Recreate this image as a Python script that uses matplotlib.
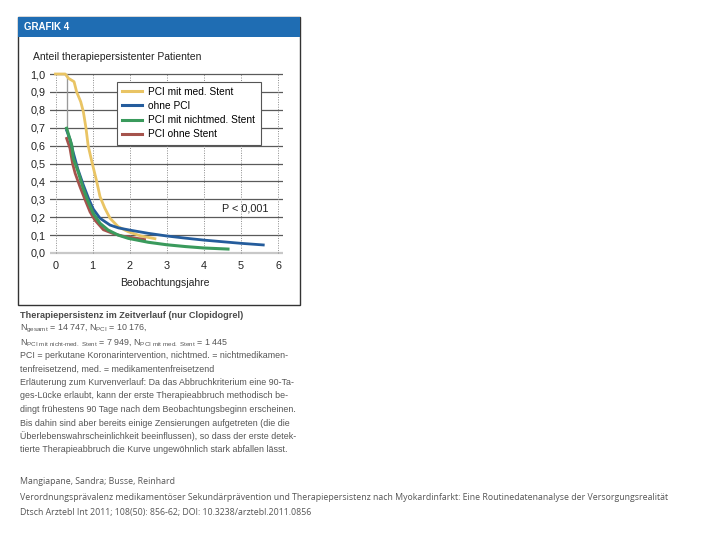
import matplotlib
matplotlib.use("Agg")
import matplotlib.pyplot as plt
from matplotlib.patches import Rectangle
from matplotlib.lines import Line2D

# --- data ---
t_med = [0.0, 0.26, 0.35, 0.50, 0.57, 0.68, 0.75, 0.82, 0.88, 0.98, 1.11, 1.20, 1.33, 1.47, 1.69, 1.96, 2.30, 2.68]
v_med = [1.0, 1.0, 0.976, 0.957, 0.90, 0.845, 0.79, 0.70, 0.60, 0.51, 0.40, 0.315, 0.25, 0.194, 0.147, 0.119, 0.095, 0.08]

t_ohne = [0.0, 0.30, 0.30, 0.40, 0.48, 0.60, 0.75, 0.90, 1.02, 1.20, 1.47, 1.70, 2.0, 2.5, 3.0, 3.5, 4.0, 4.5, 5.0, 5.6]
v_ohne = [1.0, 1.0, 0.685, 0.63, 0.56, 0.47, 0.38, 0.30, 0.245, 0.194, 0.156, 0.14, 0.128, 0.11, 0.095, 0.083, 0.072, 0.063, 0.054, 0.045]

t_nicht = [0.0, 0.30, 0.30, 0.44, 0.48, 0.61, 0.75, 0.88, 1.02, 1.20, 1.42, 1.69, 1.96, 2.5, 3.0, 3.5, 4.0, 4.65]
v_nicht = [1.0, 1.0, 0.697, 0.60, 0.53, 0.454, 0.36, 0.287, 0.22, 0.166, 0.128, 0.10, 0.082, 0.06, 0.046, 0.036, 0.028, 0.022]

t_pci = [0.0, 0.30, 0.30, 0.39, 0.46, 0.53, 0.66, 0.80, 0.93, 1.06, 1.29, 1.56, 1.80, 2.10, 2.40]
v_pci = [1.0, 1.0, 0.64, 0.585, 0.50, 0.445, 0.37, 0.296, 0.23, 0.184, 0.13, 0.108, 0.095, 0.085, 0.075]

labels = ["PCI mit med. Stent", "ohne PCI", "PCI mit nichtmed. Stent", "PCI ohne Stent"]
colors = ["#E9C464", "#245C9C", "#3A9A5C", "#A5534C"]

x_ticks = [0, 1, 2, 3, 4, 5, 6]
y_ticks = [0.0, 0.1, 0.2, 0.3, 0.4, 0.5, 0.6, 0.7, 0.8, 0.9, 1.0]

caption = [
    "Erläuterung zum Kurvenverlauf: Da das Abbruchkriterium eine 90-Ta-",
    "ges-Lücke erlaubt, kann der erste Therapieabbruch methodisch be-",
    "dingt frühestens 90 Tage nach dem Beobachtungsbeginn erscheinen.",
    "Bis dahin sind aber bereits einige Zensierungen aufgetreten (die die",
    "Überlebenswahrscheinlichkeit beeinflussen), so dass der erste detek-",
    "tierte Therapieabbruch die Kurve ungewöhnlich stark abfallen lässt.",
]
source = [
    "Mangiapane, Sandra; Busse, Reinhard",
    "Verordnungsprävalenz medikamentöser Sekundärprävention und Therapiepersistenz nach Myokardinfarkt: "
    "Eine Routinedatenanalyse der Versorgungsrealität",
    "Dtsch Arztebl Int 2011; 108(50): 856-62; DOI: 10.3238/arztebl.2011.0856",
]

plt.rcParams["font.family"] = ["Liberation Sans", "DejaVu Sans"]
plt.rcParams["mathtext.fontset"] = "custom"
plt.rcParams["mathtext.rm"] = "Liberation Sans"

W, H = 720, 540
fig = plt.figure(figsize=(7.2, 5.4), dpi=100)


def fx(px):
    return px / W


def fy(py):
    return 1 - py / H


# frame and header
fig.patches.append(Rectangle((fx(18), fy(305)), fx(282), (305 - 17) / H, transform=fig.transFigure,
                             fill=False, edgecolor="#333333", linewidth=1.0))
fig.patches.append(Rectangle((fx(18), fy(37)), fx(282), 20 / H, transform=fig.transFigure,
                             facecolor="#1F6DB3", edgecolor="none"))
fig.text(fx(24), fy(27), "GRAFIK 4", color="white", fontsize=7, fontweight="bold", va="center")
fig.text(fx(33), fy(57), "Anteil therapiepersistenter Patienten", fontsize=7.5, va="center",
         color="#222222")

# axes placement: year 0 at px 55.5, 37.1 px per year; 1.0 at py 74, 0.0 at py 253
x0, sx = 55.5, 37.1
y1, y0 = 74, 253
xl, xr = -0.15, 6.13
yb, yt = -0.02, 1.02
left = x0 + xl * sx
right = x0 + xr * sx
top = y0 - yt * (y0 - y1)
bottom = y0 - yb * (y0 - y1)
ax = fig.add_axes([fx(left), fy(bottom), fx(right - left), (bottom - top) / H])
ax.set_xlim(xl, xr)
ax.set_ylim(yb, yt)
for s in ax.spines.values():
    s.set_visible(False)
ax.tick_params(length=0, labelsize=7.8, pad=3, labelcolor="#222222")
ax.set_xticks(x_ticks)
ax.set_yticks(y_ticks)
ax.set_yticklabels([f"{v:.1f}".replace(".", ",") for v in y_ticks])
ax.set_xticklabels([str(v) for v in x_ticks])

for v in y_ticks:
    if v == 0:
        ax.axhline(v, color="#C8C8C8", lw=1.6, zorder=1)
    else:
        ax.axhline(v, color="#5A5A5A", lw=0.9, zorder=1)
ax.vlines(x_ticks, 0, 1.0, colors="#8A8A8A", linestyles=(0, (1, 1.5)), lw=0.7, zorder=1)

# thin vertical drop at the first detectable abbruch
ax.plot(t_ohne[:3], v_ohne[:3], color="#9A9A9A", lw=0.8, zorder=2)
ax.plot(t_nicht[:3], v_nicht[:3], color="#9A9A9A", lw=0.8, zorder=2)
ax.plot(t_pci[:3], v_pci[:3], color="#9A9A9A", lw=0.8, zorder=2)

ax.plot(t_med, v_med, color=colors[0], lw=2.0, zorder=3)
ax.plot(t_pci[2:], v_pci[2:], color=colors[3], lw=2.0, zorder=4)
ax.plot(t_ohne[2:], v_ohne[2:], color=colors[1], lw=2.0, zorder=5)
ax.plot(t_nicht[2:], v_nicht[2:], color=colors[2], lw=2.2, zorder=6)

handles = [Line2D([], [], color=c, lw=2.2) for c in colors]
leg = ax.legend(handles, labels, loc="upper left", bbox_to_anchor=(0.288, 0.94), fontsize=7.3,
                frameon=True, fancybox=False, handlelength=2.0, handletextpad=0.6,
                labelspacing=0.42, borderpad=0.5, borderaxespad=0, framealpha=1)
leg.get_frame().set_edgecolor("#555555")
leg.get_frame().set_linewidth(0.8)
leg.set_zorder(10)

ax.text(4.48, 0.25, "P < 0,001", fontsize=7.8, va="center", color="#222222")
fig.text(fx(165), fy(283), "Beobachtungsjahre", fontsize=7.5, ha="center", va="center",
         color="#222222")

# caption under the chart
cap_y, step = 315, 13.5
fig.text(fx(20), fy(cap_y), "Therapiepersistenz im Zeitverlauf (nur Clopidogrel)", fontsize=6.6,
         fontweight="bold", color="#4A4A4A", va="center")
body = [
    r"N$_{\mathregular{gesamt}}$ = 14 747, N$_{\mathregular{PCI}}$ = 10 176,",
    r"N$_{\mathregular{PCI\ mit\ nicht\text{-}med.\ Stent}}$ = 7 949, N$_{\mathregular{PCI\ mit\ med.\ Stent}}$ = 1 445",
    "PCI = perkutane Koronarintervention, nichtmed. = nichtmedikamen-",
    "tenfreisetzend, med. = medikamentenfreisetzend",
] + caption
for i, line in enumerate(body):
    fig.text(fx(20), fy(cap_y + (i + 1) * step), line, fontsize=6.4, color="#555555", va="center")

for i, line in enumerate(source):
    fig.text(fx(20), fy(482 + i * 15), line, fontsize=6.3, color="#555555", va="center",
             family=["Open Sans", "DejaVu Sans"])

fig.savefig("out.png", dpi=100)
